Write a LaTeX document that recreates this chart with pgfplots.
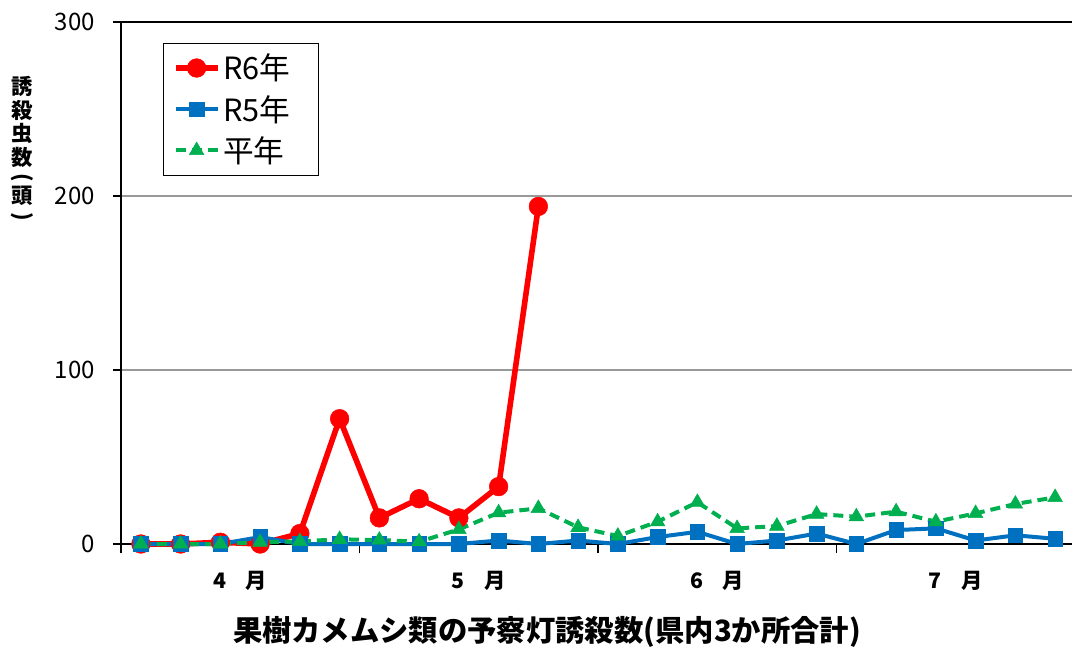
\documentclass[border=0pt]{standalone}
\usepackage{fontspec}
\setmainfont{Noto Sans CJK JP}
\usepackage{graphicx}
\usepackage{pgfplots}
\pgfplotsset{compat=1.18}
\definecolor{r6}{HTML}{FF0000}
\definecolor{r5}{HTML}{0070C0}
\definecolor{hn}{HTML}{00B050}
\pgfplotsset{
  mylegend/.style={legend image code/.code={\draw[mark repeat=2,mark phase=2,##1] plot coordinates {(0pt,0pt) (15.75pt,0pt) (31.5pt,0pt)};}}
}
\begin{document}
\begin{tikzpicture}
\useasboundingbox (-90.75pt,-77.25pt) rectangle (713.25pt,408pt);
\begin{axis}[
 at={(0pt,0pt)}, anchor=south west,
 scale only axis, width=715.5pt, height=391.5pt,
 xmin=-0.5, xmax=23.5, ymin=0, ymax=300,
 axis lines*=left,
 axis line style={black, line width=1.1pt},
 ytick={0,100,200},
 extra y ticks={300},
 extra y tick style={grid style={black, line width=1.1pt}},
 ymajorgrids, grid style={black!40, line width=0.8pt},
 tick align=outside,
 major tick length=6pt,
 tick style={black, line width=1pt},
 yticklabel style={font=\fontsize{18}{18}\selectfont, xshift=-10pt},
 /pgf/number format/assume math mode=true,
 xtick={2.5,8.5,14.5,20.5},
 xticklabels={4\hspace{0.9em}月,5\hspace{0.9em}月,6\hspace{0.9em}月,7\hspace{0.9em}月},
 xticklabel style={font=\fontsize{16}{16}\selectfont\bfseries, yshift=-11pt},
 major x tick style={draw=none},
 minor xtick={-0.5,5.5,11.5,17.5,23.5},
 minor tick length=7pt,
 clip=false,
 mylegend,
 legend style={at={(rel axis cs:0.044,0.96)}, anchor=north west, draw=black, line width=0.8pt,
   font=\fontsize{23}{23}\selectfont, row sep=6pt, inner xsep=7pt, inner ysep=6pt, cells={anchor=west}},
]
\addplot[r6, line width=4.2pt, mark=*, mark size=7pt, mark options={solid, line width=0.4pt}] coordinates {
 (0,0) (1,0) (2,1) (3,0) (4,6) (5,72) (6,15) (7,26) (8,15) (9,33) (10,194)};
\addlegendentry{R6年\rule{12pt}{0pt}}
\addplot[r5, line width=3pt, mark=square*, mark size=5.5pt, mark options={solid, line width=0.4pt}] coordinates {
 (0,0) (1,0) (2,0) (3,4) (4,0) (5,0) (6,0) (7,0) (8,0) (9,2) (10,0) (11,2)
 (12,0) (13,4) (14,7) (15,0) (16,2) (17,6) (18,0) (19,8) (20,9) (21,2) (22,5) (23,3)};
\addlegendentry{R5年\rule{12pt}{0pt}}
\addplot[hn, line width=3pt, dash pattern=on 7.5pt off 4.5pt, mark=triangle*, mark size=6.3pt, mark options={solid, line width=0.4pt}] coordinates {
 (0,0) (1,0) (2,0) (3,1) (4,1.5) (5,2.7) (6,2.3) (7,1.3) (8,8.4) (9,18) (10,20.5) (11,9.6)
 (12,4.6) (13,12.8) (14,24) (15,9) (16,10.3) (17,17.2) (18,15.7) (19,18.6) (20,12.8) (21,17.6) (22,23) (23,26.8)};
\addlegendentry{平年\rule{12pt}{0pt}}
\node[font=\fontsize{16}{17.6}\selectfont\bfseries, align=center, anchor=center, xshift=-74pt] at (rel axis cs:0,0.755) {誘\\殺\\虫\\数\\[-3pt]\rotatebox[origin=c]{-90}{(}\\[-3pt]頭\\[-3pt]\rotatebox[origin=c]{-90}{)}};
\node[font=\fontsize{22}{22}\selectfont\bfseries, anchor=center, xshift=319.5pt, yshift=-66pt] at (rel axis cs:0,0) {果樹カメムシ類の予察灯誘殺数(県内3か所合計)};
\end{axis}
\end{tikzpicture}
\end{document}
